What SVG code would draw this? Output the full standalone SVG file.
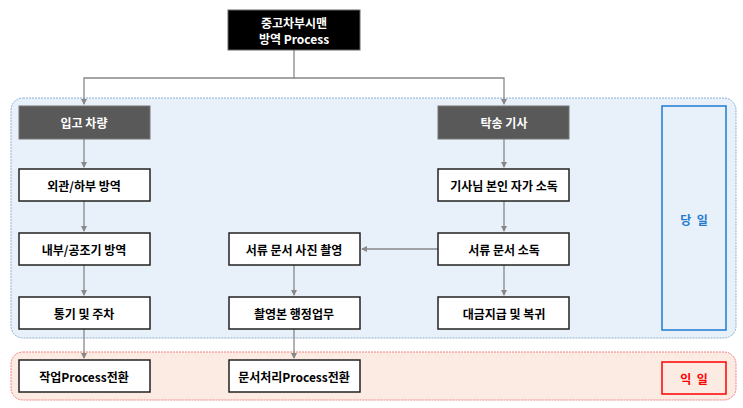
<svg xmlns="http://www.w3.org/2000/svg" width="743" height="408" viewBox="0 0 743 408">
<defs>
<style>
text{font-family:"Noto Sans CJK KR","Noto Sans",sans-serif;font-weight:bold;font-size:12px;text-anchor:middle;dominant-baseline:central}
.b{fill:#fff;stroke:#222;stroke-width:1.5}
.h{fill:#595959;stroke:#777}
.w{fill:#fff}
.c{fill:none;stroke:#888;stroke-width:1.3}
</style>
<marker id="a" markerWidth="6" markerHeight="6" refX="5" refY="3" orient="auto" markerUnits="userSpaceOnUse"><path d="M0,0L6,3L0,6z" fill="#888"/></marker>
</defs>
<rect x="11" y="98" width="725" height="240" rx="12" fill="#e8f0f9" stroke="#8fb0d4" stroke-dasharray="2,1"/>
<rect x="11" y="352" width="725" height="48" rx="12" fill="#fcebe3" stroke="#f08080" stroke-dasharray="2,1"/>
<g class="c">
<path d="M294,50V78H84V104" marker-end="url(#a)"/>
<path d="M294,78H504V104" marker-end="url(#a)"/>
<path d="M84,139V167" marker-end="url(#a)"/>
<path d="M84,201V231" marker-end="url(#a)"/>
<path d="M84,265V295" marker-end="url(#a)"/>
<path d="M84,329V358" marker-end="url(#a)"/>
<path d="M504,139V167" marker-end="url(#a)"/>
<path d="M504,201V231" marker-end="url(#a)"/>
<path d="M504,265V295" marker-end="url(#a)"/>
<path d="M438,249H362" marker-end="url(#a)"/>
<path d="M294,265V295" marker-end="url(#a)"/>
<path d="M294,329V358" marker-end="url(#a)"/>
</g>
<g id="top"><rect x="228" y="10" width="132" height="40" fill="#000" stroke="#666"/><text class="w" x="294" y="22" font-size="11">중고차부시맨</text><text class="w" x="294" y="38" font-size="11">방역 Process</text></g>
<g id="n1"><rect class="h" x="19" y="106" width="131" height="33"/><text class="w" x="84" y="122.5">입고 차량</text></g>
<g id="n2"><rect class="b" x="19" y="169" width="131" height="32"/><text x="84" y="185">외관/하부 방역</text></g>
<g id="n3"><rect class="b" x="19" y="233" width="131" height="32"/><text x="84" y="249">내부/공조기 방역</text></g>
<g id="n4"><rect class="b" x="19" y="297" width="131" height="32"/><text x="84" y="313">통기 및 주차</text></g>
<g id="n5"><rect class="b" x="19" y="360" width="131" height="32"/><text x="84" y="376">작업Process전환</text></g>
<g id="m1"><rect class="b" x="229" y="233" width="131" height="32"/><text x="294" y="249">서류 문서 사진 촬영</text></g>
<g id="m2"><rect class="b" x="229" y="297" width="131" height="32"/><text x="294" y="313">촬영본 행정업무</text></g>
<g id="m3"><rect class="b" x="229" y="360" width="131" height="32"/><text x="294" y="376">문서처리Process전환</text></g>
<g id="r1"><rect class="h" x="438" y="106" width="131" height="33"/><text class="w" x="504" y="122.5">탁송 기사</text></g>
<g id="r2"><rect class="b" x="438" y="169" width="131" height="32"/><text x="504" y="185">기사님 본인 자가 소독</text></g>
<g id="r3"><rect class="b" x="438" y="233" width="131" height="32"/><text x="504" y="249">서류 문서 소독</text></g>
<g id="r4"><rect class="b" x="438" y="297" width="131" height="32"/><text x="504" y="313">대금지급 및 복귀</text></g>
<g id="d1"><rect x="662" y="106" width="64" height="224" fill="none" stroke="#1f7bd0" stroke-width="1.5"/><text x="694" y="219" fill="#1f7bd0" xml:space="preserve">당  일</text></g>
<g id="d2"><rect x="662" y="362" width="64" height="32" fill="none" stroke="#f00" stroke-width="1.5"/><text x="694" y="378" fill="#f00" xml:space="preserve">익  일</text></g>
</svg>
